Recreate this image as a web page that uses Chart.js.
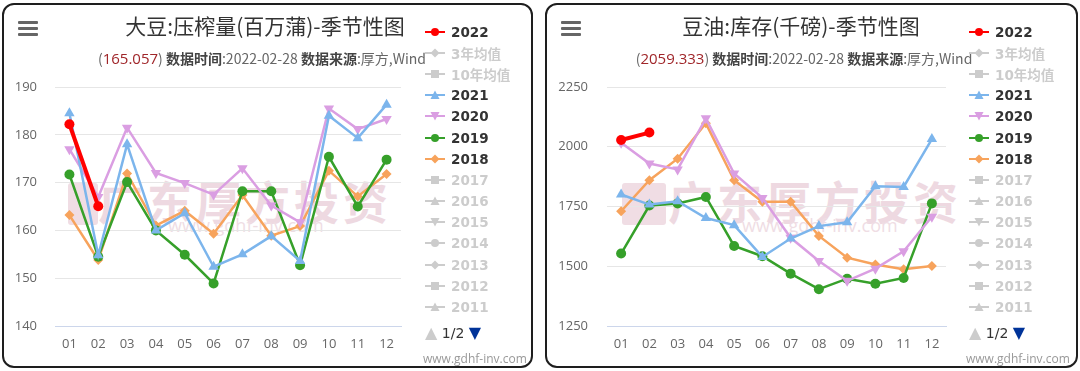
<!DOCTYPE html>
<html>
<head>
<meta charset="utf-8">
<script src="https://cdn.jsdelivr.net/npm/chart.js"></script>
<style>
  html, body { margin: 0; padding: 0; background: #fff; }
  body { width: 1080px; height: 371px; position: relative; overflow: hidden;
         font-family: "Open Sans", "Noto Sans CJK SC", sans-serif; }
  .panel { position: absolute; top: 3px; height: 365px; box-sizing: border-box;
           border: 2px solid #1e1e1e; border-radius: 12px; background: #fff; }
  .wm { position: absolute; color: #eed9e1; white-space: nowrap; }
  .wm-text { font-family: "Noto Sans CJK SC", sans-serif; font-size: 45px; font-weight: 700; letter-spacing: 4px; }
  .wm-url { font-family: "Open Sans", sans-serif; font-size: 18px; color: #efdde4; }
  .wm-logo { position: absolute; width: 30px; height: 42px; background: #f0dde4; border-radius: 3px; }
  .chartbox { position: absolute; top: 0; width: 420px; height: 371px; }
  .title { position: absolute; top: 10px; font-family: "Noto Sans CJK SC", sans-serif; font-size: 21px;
           color: #333; white-space: nowrap; transform: translateX(-50%); }
  .sub { position: absolute; top: 48px; font-family: "Noto Sans CJK SC", sans-serif; font-size: 14px;
         color: #666; white-space: nowrap; transform: translateX(-50%); }
  .sub .num { color: #a0262a; font-family: "Open Sans", sans-serif; font-size: 15px; }
  .sub b { color: #444; }
  .burger { position: absolute; width: 20px; }
  .burger div { height: 3px; background: #666; margin-bottom: 3px; border-radius: 1px; }
  .legend { position: absolute; top: 21px; }
  .legend .row { height: 21.2px; display: flex; align-items: center; font-family: "DejaVu Sans", "Noto Sans CJK SC", sans-serif;
                 font-size: 13.5px; font-weight: bold; color: #333; white-space: nowrap; }
  .legend .row.off { color: #ccc; }
  .legend svg { margin-right: 6px; }
  .pager { position: absolute; font-family: "DejaVu Sans", sans-serif; font-size: 14px; color: #333; white-space: nowrap; }
  .pager .up { color: #ccc; font-size: 16px; }
  .pager .down { color: #003399; font-size: 16px; }
  .url { position: absolute; top: 350px; font-family: "Open Sans", sans-serif; font-size: 12px; color: #999; }
</style>
</head>
<body>

<div class="panel" style="left:2px; width:531px;"></div>
<div class="panel" style="left:545px; width:533px;"></div>

<div class="wm-logo" style="left:68px; top:183px;"></div>
<div class="wm wm-text" style="left:98px; top:168px;">广东厚方投资</div>
<div class="wm wm-url" style="left:168px; top:213px;">www.gdhf-inv.com</div>

<div class="wm-logo" style="left:622px; top:183px; width:44px;"></div>
<div class="wm wm-text" style="left:668px; top:168px;">广东厚方投资</div>
<div class="wm wm-url" style="left:742px; top:213px;">www.gdhf-inv.com</div>

<div class="chartbox" style="left:0px;"><canvas id="chartCrush" width="420" height="371"></canvas></div>
<div class="chartbox" style="left:540px;"><canvas id="chartOil" width="420" height="371"></canvas></div>

<div class="burger" style="left:18px; top:21px;"><div></div><div></div><div></div></div>
<div class="burger" style="left:561px; top:21px;"><div></div><div></div><div></div></div>

<div class="title" style="left:265px;">大豆:压榨量(百万蒲)-季节性图</div>
<div class="sub" style="left:262px;">(<span class="num">165.057</span>) <b>数据时间</b>:2022-02-28 <b>数据来源</b>:厚方,Wind</div>

<div class="title" style="left:801px;">豆油:库存(千磅)-季节性图</div>
<div class="sub" style="left:804px;">(<span class="num">2059.333</span>) <b>数据时间</b>:2022-02-28 <b>数据来源</b>:厚方,Wind</div>

<div class="legend" id="legendCrush" style="left:425px;"></div>
<div class="legend" id="legendOil" style="left:969px;"></div>

<div class="pager" style="left:425px; top:323px;"><span class="up">▲</span> 1/2 <span class="down">▼</span></div>
<div class="pager" style="left:969px; top:323px;"><span class="up">▲</span> 1/2 <span class="down">▼</span></div>

<div class="url" style="left:423px;">www.gdhf-inv.com</div>
<div class="url" style="left:966px;">www.gdhf-inv.com</div>

<script>
const months = ["01", "02", "03", "04", "05", "06", "07", "08", "09", "10", "11", "12"];

const seriesNames = ["2022", "2021", "2020", "2019", "2018"];
const seriesColors = ["#ff0000", "#7cb5ec", "#da9ee2", "#36a02a", "#f7a35c"];
const seriesMarkers = ["circle", "triangle", "triangleDown", "circle", "rectRot"];

const hiddenNames = ["3年均值", "10年均值", "2017", "2016", "2015", "2014", "2013", "2012", "2011"];
const hiddenMarkers = ["rectRot", "rect", "rect", "triangle", "triangleDown", "circle", "rectRot", "rect", "triangle"];

// 大豆 压榨量 (百万蒲)
const crush2022 = [182.2, 165.057];
const crush2021 = [184.5, 154.8, 178.0, 160.0, 163.6, 152.4, 155.0, 158.8, 153.6, 184.0, 179.3, 186.3];
const crush2020 = [177.0, 167.0, 181.5, 172.0, 169.9, 167.5, 173.0, 165.2, 161.7, 185.5, 181.2, 183.3];
const crush2019 = [171.7, 154.5, 170.1, 160.0, 154.9, 148.9, 168.2, 168.2, 152.7, 175.4, 165.0, 174.8];
const crush2018 = [163.2, 153.8, 171.9, 161.0, 164.1, 159.3, 167.4, 158.9, 160.9, 172.5, 167.1, 171.8];
const crushTicks = [140, 150, 160, 170, 180, 190];

// 豆油 库存 (千磅)
const oil2022 = [2028, 2059.333];
const oil2021 = [1800, 1758, 1772, 1702, 1672, 1539, 1616, 1668, 1684, 1835, 1832, 2032];
const oil2020 = [2017, 1930, 1905, 2119, 1888, 1786, 1619, 1522, 1439, 1490, 1563, 1707];
const oil2019 = [1553, 1754, 1763, 1790, 1585, 1542, 1469, 1404, 1448, 1427, 1451, 1763];
const oil2018 = [1730, 1860, 1950, 2098, 1860, 1770, 1770, 1627, 1536, 1507, 1487, 1501];
const oilTicks = [1250, 1500, 1750, 2000, 2250];

function makeDatasets(lists) {
    return lists.map(function (data, i) {
        const marker = seriesMarkers[i];
        const isCurrent = i === 0;
        return {
            label: seriesNames[i],
            data: data,
            borderColor: seriesColors[i],
            backgroundColor: seriesColors[i],
            borderWidth: isCurrent ? 4 : 2.5,
            tension: 0,
            pointStyle: marker === "triangleDown" ? "triangle" : marker,
            rotation: marker === "triangleDown" ? 180 : 0,
            pointRadius: marker === "circle" ? 5 : (marker === "rectRot" ? 5 : 6),
            pointBorderWidth: 0,
            pointHoverRadius: 5
        };
    });
}

function buildChart(id, lists, ticks, axisWidth, labelPad, rightPad) {
    const step = ticks[1] - ticks[0];
    const yMin = ticks[0];
    const yMax = ticks[ticks.length - 1];
    new Chart(document.getElementById(id).getContext("2d"), {
        type: "line",
        data: { labels: months, datasets: makeDatasets(lists) },
        options: {
            responsive: false,
            animation: false,
            layout: { padding: { top: 87, bottom: 15, left: 0, right: rightPad } },
            plugins: { legend: { display: false }, tooltip: { enabled: false } },
            scales: {
                x: {
                    offset: true,
                    grid: { display: false, drawTicks: false },
                    border: { display: true, color: "#ccd6eb", width: 1 },
                    ticks: { color: "#666", padding: 10, font: { family: "Open Sans", size: 13 } },
                    afterFit: function (scale) { scale.height = 30; }
                },
                y: {
                    min: yMin,
                    max: yMax,
                    ticks: {
                        stepSize: step, color: "#666", padding: labelPad,
                        font: { family: "Open Sans", size: 13 },
                        callback: function (v) { return String(v); }
                    },
                    grid: {
                        drawTicks: false,
                        color: function (c) { return c.tick && c.tick.value === yMin ? "#ccd6eb" : "#e6e6e6"; }
                    },
                    border: { display: false },
                    afterFit: function (scale) { scale.width = axisWidth; }
                }
            }
        }
    });
}

function markerSvg(marker, color) {
    let shape = "";
    if (marker === "circle") shape = '<circle cx="10" cy="6" r="4" fill="' + color + '"/>';
    else if (marker === "rect") shape = '<rect x="6" y="2" width="8" height="8" fill="' + color + '"/>';
    else if (marker === "rectRot") shape = '<polygon points="10,1.5 14.5,6 10,10.5 5.5,6" fill="' + color + '"/>';
    else if (marker === "triangle") shape = '<polygon points="10,1.5 14.5,10 5.5,10" fill="' + color + '"/>';
    else shape = '<polygon points="5.5,2 14.5,2 10,10.5" fill="' + color + '"/>';
    return '<svg width="20" height="12"><line x1="0" y1="6" x2="20" y2="6" stroke="' + color +
        '" stroke-width="2"/>' + shape + '</svg>';
}

function buildLegend(id) {
    const rows = [];
    rows.push({ name: seriesNames[0], color: seriesColors[0], marker: seriesMarkers[0], on: true });
    rows.push({ name: hiddenNames[0], color: "#ccc", marker: hiddenMarkers[0], on: false });
    rows.push({ name: hiddenNames[1], color: "#ccc", marker: hiddenMarkers[1], on: false });
    for (let i = 1; i < seriesNames.length; i++) {
        rows.push({ name: seriesNames[i], color: seriesColors[i], marker: seriesMarkers[i], on: true });
    }
    for (let i = 2; i < hiddenNames.length; i++) {
        rows.push({ name: hiddenNames[i], color: "#ccc", marker: hiddenMarkers[i], on: false });
    }
    document.getElementById(id).innerHTML = rows.map(function (r) {
        return '<div class="row' + (r.on ? '' : ' off') + '">' + markerSvg(r.marker, r.color) + r.name + '</div>';
    }).join("");
}

buildChart("chartCrush", [crush2022, crush2021, crush2020, crush2019, crush2018], crushTicks, 55, 18, 19);
buildChart("chartOil", [oil2022, oil2021, oil2020, oil2019, oil2018], oilTicks, 67, 19, 14);
buildLegend("legendCrush");
buildLegend("legendOil");
</script>
</body>
</html>
